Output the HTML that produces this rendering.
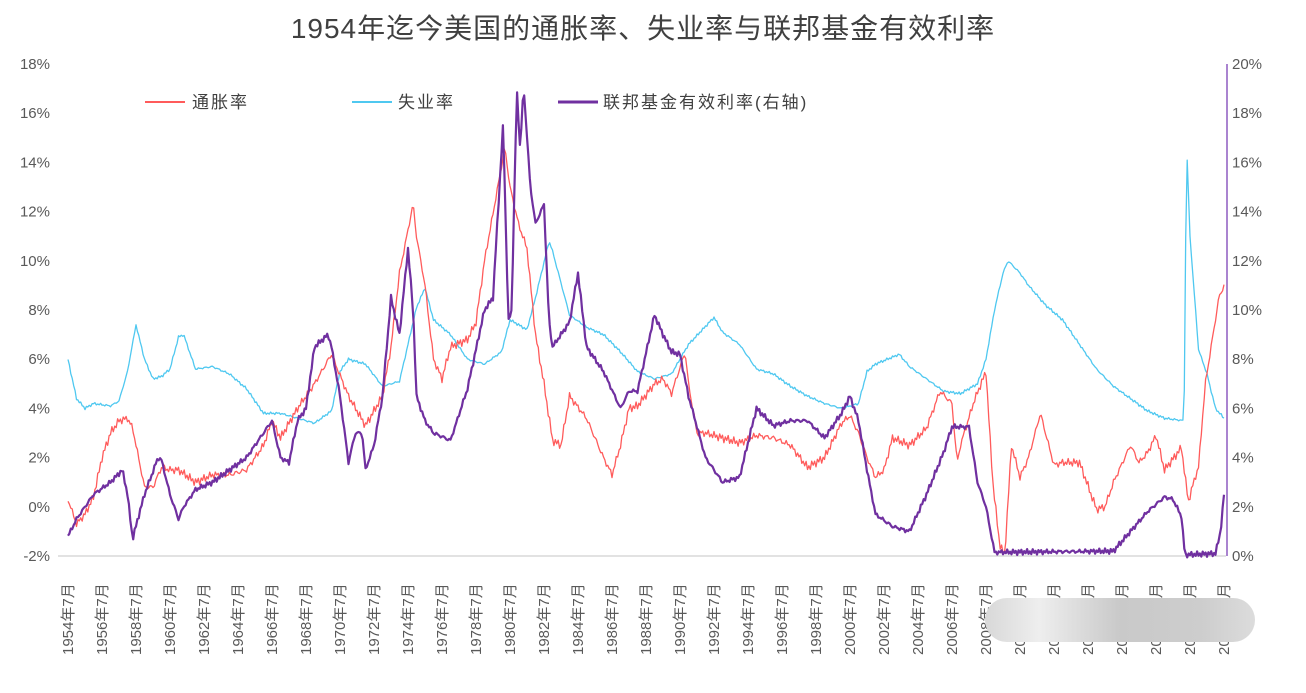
<!DOCTYPE html>
<html><head><meta charset="utf-8"><style>
body{margin:0;background:#fff;width:1306px;height:688px;overflow:hidden;font-family:"Liberation Sans","Noto Sans CJK SC",sans-serif;}
svg text{font-family:"Liberation Sans","Noto Sans CJK SC",sans-serif;}
</style></head><body>
<svg id="c" width="1306" height="688" xmlns="http://www.w3.org/2000/svg">
<defs><linearGradient id="wm" x1="0" x2="1"><stop offset="0" stop-color="#d8d8d8"/><stop offset="0.2" stop-color="#eeeeee"/><stop offset="0.5" stop-color="#c9c9c9"/><stop offset="0.8" stop-color="#cdcdcd"/><stop offset="1" stop-color="#dcdcdc"/></linearGradient></defs>
<text x="643" y="38" text-anchor="middle" font-size="28" fill="#404040" letter-spacing="1">1954年迄今美国的通胀率、失业率与联邦基金有效利率</text>
<g id="ax" font-size="15" fill="#595959"></g>
<line x1="58" y1="556" x2="1226" y2="556" stroke="#d9d9d9" stroke-width="1.5"/>
<line x1="1227" y1="64" x2="1227" y2="556" stroke="#8e5cc0" stroke-width="1.5"/>
<g id="series"></g>
<g font-size="17" fill="#404040" letter-spacing="2">
<line x1="145" y1="102" x2="185" y2="102" stroke="#ff5b5b" stroke-width="2"/><text x="192" y="108">通胀率</text>
<line x1="352" y1="102" x2="392" y2="102" stroke="#4fc8f0" stroke-width="2"/><text x="398" y="108">失业率</text>
<line x1="558" y1="102" x2="598" y2="102" stroke="#7030a0" stroke-width="3"/><text x="603" y="108">联邦基金有效利率(右轴)</text>
</g>
<rect x="985" y="598" width="270" height="44" rx="22" fill="url(#wm)"/>
</svg>
<script>
var ns="http://www.w3.org/2000/svg";
function el(t,a,p,txt){var e=document.createElementNS(ns,t);for(var k in a)e.setAttribute(k,a[k]);if(txt!=null)e.textContent=txt;p.appendChild(e);return e;}
var ax=document.getElementById('ax');
for(var i=0;i<=10;i++){var v=18-2*i,y=64+i*49.2;el('text',{x:50,y:y+5,'text-anchor':'end'},ax,v+'%');el('text',{x:1232,y:y+5},ax,(20-2*i)+'%');}
for(var k=0;k<=34;k++){var yr=1954+2*k,x=68+k*34;var lab=yr+'年7月';
el('text',{x:0,y:0,transform:'translate('+(x+5)+',655) rotate(-90)','font-size':'15'},ax,lab);}
document.getElementById('c').appendChild(document.querySelector('rect[fill="url(#wm)"]'));
function X(t){return 68+(t-1954.5)*17;}
function L(v){return 556-(v+2)*24.6;}
function R(v){return 556-v*24.6;}
function interp(d,t){for(var i=0;i<d.length-1;i++){if(t>=d[i][0]&&t<=d[i+1][0]){var f=(t-d[i][0])/(d[i+1][0]-d[i][0]);return d[i][1]+f*(d[i+1][1]-d[i][1]);}}return d[d.length-1][1];}
function build(flat,amp,seed,map,color,w){var d=[];for(var i=0;i<flat.length;i+=2)d.push([flat[i],flat[i+1]]);var pts=[];
for(var t=1954.5;t<=2022.55;t+=1/12){var v=interp(d,t);var n=amp*(Math.sin(t*37.1+seed)*0.6+Math.sin(t*91.7+seed*2)*0.4);pts.push(X(t).toFixed(1)+','+map(v+n).toFixed(1));}
el('polyline',{points:pts.join(' '),fill:'none',stroke:color,'stroke-width':w,'stroke-linejoin':'round'},document.getElementById('series'));}
var unemp=[1954.5,6.0,1955,4.4,1955.5,4.0,1956,4.2,1957,4.1,1957.5,4.3,1958,5.5,1958.5,7.4,1959,6.0,1959.5,5.2,1960,5.3,1960.5,5.6,1961,6.9,1961.3,7.0,1962,5.6,1963,5.7,1964,5.4,1965,4.8,1966,3.8,1967,3.8,1968,3.6,1969,3.4,1970,3.9,1970.5,5.5,1971,6.0,1972,5.8,1973,4.9,1974,5.1,1975,8.1,1975.5,8.9,1976,7.6,1977,7.0,1978,6.0,1979,5.8,1980,6.3,1980.5,7.6,1981,7.4,1981.5,7.2,1982,8.5,1982.8,10.8,1983,10.4,1984,7.8,1985,7.3,1986,7.0,1987,6.3,1988,5.5,1989,5.2,1990,5.4,1991,6.6,1992.5,7.7,1993,7.1,1994,6.6,1995,5.6,1996,5.4,1997,4.9,1998,4.5,1999,4.2,2000,4.0,2001,4.2,2001.5,5.5,2002,5.8,2003.4,6.2,2004,5.7,2005,5.2,2006,4.7,2007,4.6,2008,5.0,2008.5,6.0,2009,8.0,2009.5,9.5,2009.8,10.0,2010.5,9.5,2011,9.0,2012,8.2,2013,7.6,2014,6.6,2015,5.6,2016,4.9,2017,4.4,2018,3.9,2019,3.6,2020.15,3.5,2020.3,14.7,2020.5,11.0,2021,6.4,2021.5,5.4,2022,4.0,2022.5,3.6];
var infl=[1954.5,0.3,1955,-0.7,1955.5,-0.3,1956,0.4,1956.5,2.0,1957,3.0,1957.5,3.5,1958,3.6,1958.3,3.2,1959,0.8,1959.5,0.8,1960,1.6,1960.5,1.5,1961,1.5,1962,1.0,1963,1.3,1964,1.3,1965,1.5,1966,2.5,1966.5,3.5,1967,2.8,1968,4.0,1969,5.0,1970,6.2,1971,4.5,1972,3.3,1973,4.5,1973.5,6.5,1974,9.5,1974.8,12.3,1975,11,1975.5,9,1976,6.0,1976.5,5.2,1977,6.5,1978,6.8,1978.5,7.5,1979,10,1980.2,14.6,1980.5,13,1981,11.5,1981.5,10.5,1982,7,1982.5,5.0,1983,2.7,1983.5,2.5,1984,4.5,1985,3.6,1986,2.0,1986.5,1.3,1987,2.5,1987.5,4.0,1988,4.1,1989,5.0,1989.5,5.2,1990,4.6,1990.8,6.3,1991,5,1991.5,3.0,1992,3.0,1993,2.8,1994,2.6,1995,2.9,1996,2.8,1997,2.5,1998,1.6,1999,2.0,2000,3.4,2000.5,3.7,2001,3.0,2001.5,2.0,2002,1.2,2002.5,1.5,2003,2.8,2004,2.5,2005,3.2,2005.8,4.7,2006.5,4.2,2006.8,1.8,2007,2.5,2007.8,4.3,2008.5,5.5,2008.9,1.0,2009.3,-1.5,2009.6,-2.0,2010,2.5,2010.5,1.2,2011,2.0,2011.7,3.8,2012,3.0,2012.5,1.7,2013,1.8,2014,1.8,2015,-0.1,2015.5,0.0,2016,1.0,2017,2.5,2017.5,1.8,2018,2.2,2018.5,2.9,2019,1.5,2020,2.4,2020.4,0.2,2020.8,1.2,2021,1.6,2021.4,5.0,2022.2,8.5,2022.5,9.0];
var fed=[1954.5,0.8,1955,1.5,1956,2.5,1957,3.0,1957.7,3.5,1958,2.5,1958.3,0.7,1958.8,2.0,1959,2.5,1959.8,4.0,1960,3.9,1960.5,2.5,1961,1.5,1961.3,2.0,1962,2.7,1963,3.0,1964,3.5,1965,4.0,1966,5.0,1966.5,5.5,1967,4.0,1967.5,3.8,1968,5.5,1968.5,6.0,1969,8.5,1969.8,9.0,1970,8.5,1970.5,6.5,1971,3.8,1971.4,5.0,1971.8,5.0,1972,3.5,1972.5,4.5,1973,6.5,1973.5,10.5,1974,9.0,1974.5,12.5,1974.8,10,1975,6.5,1975.5,5.5,1976,5.0,1977,4.7,1978,6.8,1979,10.0,1979.5,10.5,1980.1,17.6,1980.4,9.5,1980.6,10,1980.9,19.0,1981.1,16.5,1981.3,19.1,1981.7,15,1982,13.5,1982.5,14.3,1982.8,9.5,1983,8.5,1984,9.5,1984.5,11.5,1985,8.5,1986,7.5,1987,6.0,1987.5,6.7,1988,6.7,1989,9.8,1989.5,9.0,1990,8.3,1990.5,8.2,1991,6.5,1992,4.0,1993,3.0,1994,3.2,1995,6.0,1996,5.3,1997,5.5,1998,5.5,1999,4.8,2000,5.8,2000.5,6.5,2001,5.5,2001.5,3.5,2002,1.7,2003,1.2,2004,1.0,2005,2.5,2006,4.2,2006.5,5.25,2007.5,5.25,2008,3.0,2008.5,2.0,2009,0.15,2016,0.2,2017,1.0,2018,1.8,2019,2.4,2019.5,2.3,2020,1.6,2020.2,0.05,2022,0.1,2022.3,1.0,2022.5,2.5];
build(unemp,0.06,1,L,'#4fc8f0',1.3);
build(infl,0.18,2,L,'#ff5b5b',1.3);
build(fed,0.12,3,R,'#7030a0',2.2);
</script>
</body></html>
